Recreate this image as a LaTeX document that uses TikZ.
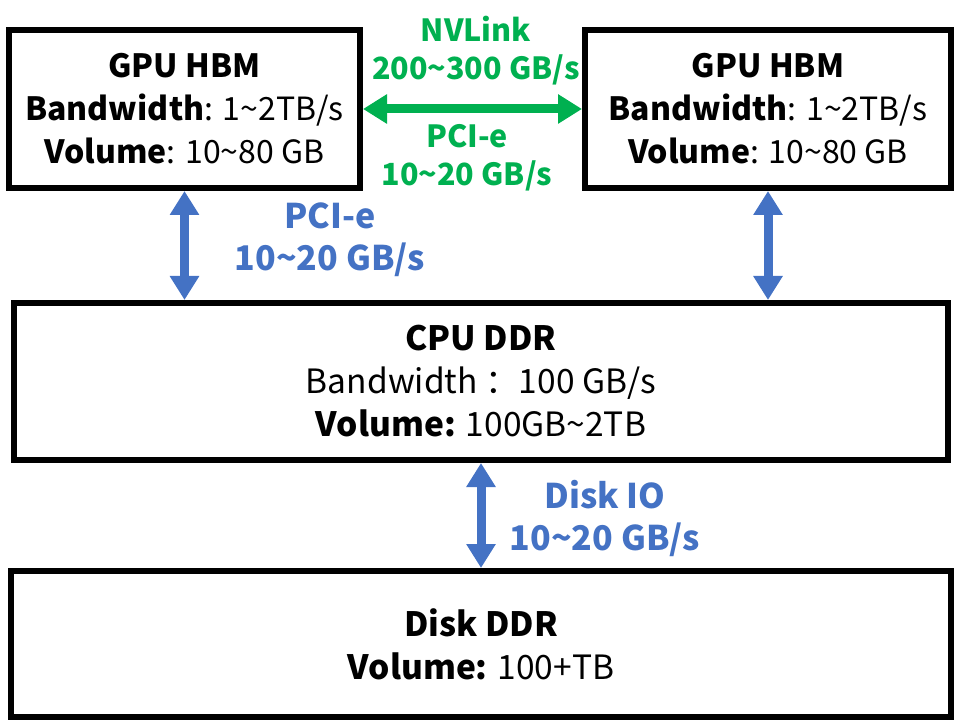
\documentclass[tikz,border=0pt]{standalone}
\usepackage{fontspec}
\setmainfont{Noto Sans CJK SC}
\usetikzlibrary{arrows.meta}
\definecolor{nvgreen}{HTML}{00B050}
\definecolor{pciblue}{HTML}{4472C4}
\begin{document}
\begin{tikzpicture}[x=1pt,y=-1pt,
  membox/.style={draw=black, line width=6pt, rectangle, inner sep=0pt, align=center,
    font=\fontsize{32}{43}\selectfont},
  bigbox/.style={membox, font=\fontsize{33.5}{43}\selectfont},
  biarrow/.style={line width=9pt, {Triangle[length=24pt,width=28pt]}-{Triangle[length=24pt,width=28pt]}},
  greenlbl/.style={text=nvgreen, align=center, font=\bfseries\fontsize{30.5}{38}\selectfont},
  bluelbl/.style={text=pciblue, align=center, font=\bfseries\fontsize{34}{42}\selectfont}
]
\useasboundingbox (0,0) rectangle (954,722);

\node[membox, minimum width=351pt, minimum height=158pt] (gl) at (184.5,109)
  {\textbf{GPU HBM}\\\textbf{Bandwidth}: 1\textasciitilde2TB/s\\\textbf{Volume}: 10\textasciitilde80 GB};
\node[membox, minimum width=366pt, minimum height=158pt] (gr) at (768,109)
  {\textbf{GPU HBM}\\\textbf{Bandwidth}: 1\textasciitilde2TB/s\\\textbf{Volume}: 10\textasciitilde80 GB};
\node[bigbox, minimum width=934pt, minimum height=157pt] (cpu) at (481,381.5)
  {\textbf{CPU DDR}\\Bandwidth ：100 GB/s\\\textbf{Volume:} 100GB\textasciitilde2TB};
\node[bigbox, minimum width=940pt, minimum height=146pt] (disk) at (481,644)
  {\textbf{Disk DDR}\\\textbf{Volume:} 100+TB};

\draw[biarrow, draw=nvgreen, fill=nvgreen] (gl.east) -- (gr.west);
\draw[biarrow, draw=pciblue, fill=pciblue] (gl.south) -- (gl.south |- cpu.north);
\draw[biarrow, draw=pciblue, fill=pciblue] (gr.south) -- (gr.south |- cpu.north);
\draw[biarrow, draw=pciblue, fill=pciblue] (cpu.south) -- (cpu.south |- disk.north);

\node[greenlbl] (nvl) at (476,51) {NVLink\\200\textasciitilde300 GB/s};
\node[greenlbl] (pcig) at (467,158) {PCI-e\\10\textasciitilde20 GB/s};
\node[bluelbl] (pcib) at (330,240) {PCI-e\\10\textasciitilde20 GB/s};
\node[bluelbl] (dio) at (605,518) {Disk IO\\10\textasciitilde20 GB/s};
\end{tikzpicture}
\end{document}
